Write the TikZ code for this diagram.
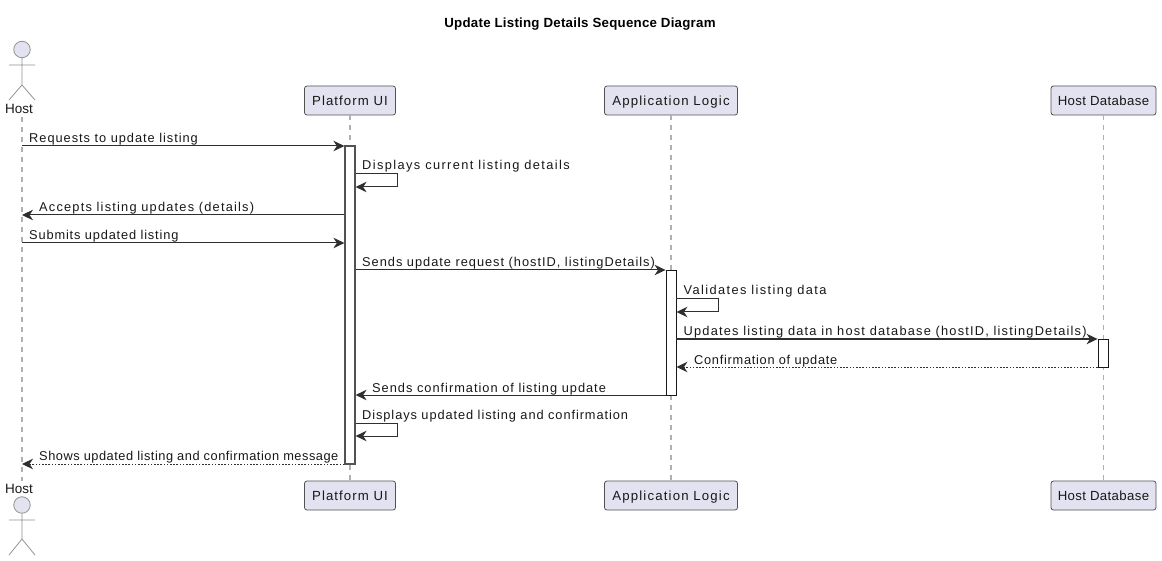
\documentclass[tikz,border=0pt]{standalone}
\usepackage{fontspec}
\setmainfont{Liberation Sans}
\newfontfamily\plainfont{Liberation Sans}
\usetikzlibrary{arrows.meta}
\definecolor{boxfill}{HTML}{E2E2F0}
\definecolor{ink}{HTML}{181818}
\definecolor{life}{HTML}{B0B0B0}
\newcommand{\lsp}[1]{\addfontfeature{LetterSpace=#1}}
\tikzset{
  x=1pt,y=-1pt,
  part/.style={draw=ink!75,line width=.8pt,fill=boxfill,rounded corners=2.5pt,minimum height=29pt,inner sep=0pt,text height=11.5pt,text depth=1pt,font=\fontsize{13.2}{15}\selectfont,text=ink},
  lifeline/.style={draw=life,line width=1.5pt,dash pattern=on 5pt off 5pt},
  actorline/.style={draw=gray!85,line width=.8pt},
  actorhead/.style={draw=gray!85,line width=.8pt,fill=boxfill,circle,minimum size=16.5pt,inner sep=0pt},
  actorname/.style={font=\plainfont\fontsize{13.5}{15}\selectfont,text=ink,inner sep=0pt},
  bar/.style={draw=ink,line width=.9pt,fill=white,minimum width=10pt,inner sep=0pt},
  msg/.style={draw=ink!90,line width=1pt,-{Stealth[length=11pt,width=10.5pt,inset=3.5pt]}},
  reply/.style={msg,dash pattern=on 1.6pt off 1.6pt},
  lab/.style={anchor=base west,inner sep=0pt,font=\fontsize{12.8}{15}\selectfont,text=ink},
  title/.style={font=\plainfont\bfseries\fontsize{13.3}{15}\selectfont,text=black,inner sep=0pt},
}
\newcommand{\barnode}[5][]{\node[bar,minimum height=#5pt-#4pt,#1] (#2) at (#3,{(#4+#5)/2}) {};}
\begin{document}
\begin{tikzpicture}
\useasboundingbox (0,0) rectangle (1162,561);
\fill[white] (0,0) rectangle (1162,561);
\node[title] (ttl) at (580,24) {\addfontfeature{LetterSpace=1.8}Update Listing Details Sequence Diagram};
% participants
\node[actorname] (hostT) at (19,109) {Host};
\node[actorname] (hostB) at (19,489) {Host};
\node[part,minimum width=91pt] (uiT) at (350,100.5) {\lsp{8.1}Platform UI};
\node[part,minimum width=133pt] (logT) at (671,100.5) {\lsp{8.9}Application Logic};
\node[part,minimum width=105pt] (dbT) at (1103.5,100.5) {\lsp{2.8}Host Database};
\node[part,minimum width=91pt] (uiB) at (350,495.5) {\lsp{8.1}Platform UI};
\node[part,minimum width=133pt] (logB) at (671,495.5) {\lsp{8.9}Application Logic};
\node[part,minimum width=105pt] (dbB) at (1103.5,495.5) {\lsp{2.8}Host Database};
% lifelines
\coordinate (hl1) at (22,117); \coordinate (hl2) at (22,481);
\draw[lifeline] (hl1) -- (hl2);
\draw[lifeline] (uiT.south) -- (uiB.north);
\draw[lifeline] (logT.south) -- (logB.north);
\draw[lifeline] (dbT.south) -- (dbB.north);
% activations
\barnode[draw=ink!75,line width=1.2pt]{a1}{350}{146}{464}
\barnode{a2}{671}{270}{395}
\barnode{a3}{1103}{339}{367}
% actors
\node[actorhead] (hd1) at (22,49.5) {};
\coordinate (w1) at (22,85);
\coordinate (al1) at (9,65); \coordinate (ar1) at (35,65);
\coordinate (fl1) at (9,100); \coordinate (fr1) at (35,100);
\draw[actorline] (hd1) -- (w1) (al1) -- (ar1) (fl1) -- (w1) -- (fr1);
\node[actorhead] (hd2) at (22,505) {};
\coordinate (w2) at (22,539);
\coordinate (al2) at (9,520); \coordinate (ar2) at (35,520);
\coordinate (fl2) at (9,555); \coordinate (fr2) at (35,555);
\draw[actorline] (hd2) -- (w2) (al2) -- (ar2) (fl2) -- (w2) -- (fr2);
% messages
\draw[msg] (hl1 |- 0,146) -- (a1.west |- 0,146);
\node[lab] (t1) at (29,142.5) {\lsp{7.6}Requests to update listing};
\draw[msg] (a1.east |- 0,174) -- (397,174) -- (397,187) -- (a1.east |- 0,187);
\node[lab] (t2) at (362,170) {\lsp{10.9}Displays current listing details};
\draw[msg] (a1.west |- 0,215) -- (hl1 |- 0,215);
\node[lab] (t3) at (39,211.5) {\lsp{9.4}Accepts listing updates (details)};
\draw[msg] (hl1 |- 0,243) -- (a1.west |- 0,243);
\node[lab] (t4) at (29,239.5) {\lsp{6.6}Submits updated listing};
\draw[msg] (a1.east |- 0,270) -- (a2.west |- 0,270);
\node[lab] (t5) at (362,266.5) {\lsp{7.7}Sends update request (hostID, listingDetails)};
\draw[msg] (a2.east |- 0,299) -- (718,299) -- (718,312) -- (a2.east |- 0,312);
\node[lab] (t6) at (683.5,295) {\lsp{10.8}Validates listing data};
\draw[msg] (a2.east |- 0,339) -- (a3.west |- 0,339);
\node[lab] (t7) at (683.5,336) {\lsp{9.4}Updates listing data in host database (hostID, listingDetails)};
\draw[reply] (a3.west |- 0,367) -- (a2.east |- 0,367);
\node[lab] (t8) at (694,364) {\lsp{5.6}Confirmation of update};
\draw[msg] (a2.west |- 0,395) -- (a1.east |- 0,395);
\node[lab] (t9) at (372,392) {\lsp{7.8}Sends confirmation of listing update};
\draw[msg] (a1.east |- 0,423) -- (397,423) -- (397,436) -- (a1.east |- 0,436);
\node[lab] (t10) at (362,419) {\lsp{7.2}Displays updated listing and confirmation};
\draw[reply] (a1.west |- 0,464) -- (hl1 |- 0,464);
\node[lab] (t11) at (39,460) {\lsp{4.1}Shows updated listing and confirmation message};
\end{tikzpicture}
\end{document}
